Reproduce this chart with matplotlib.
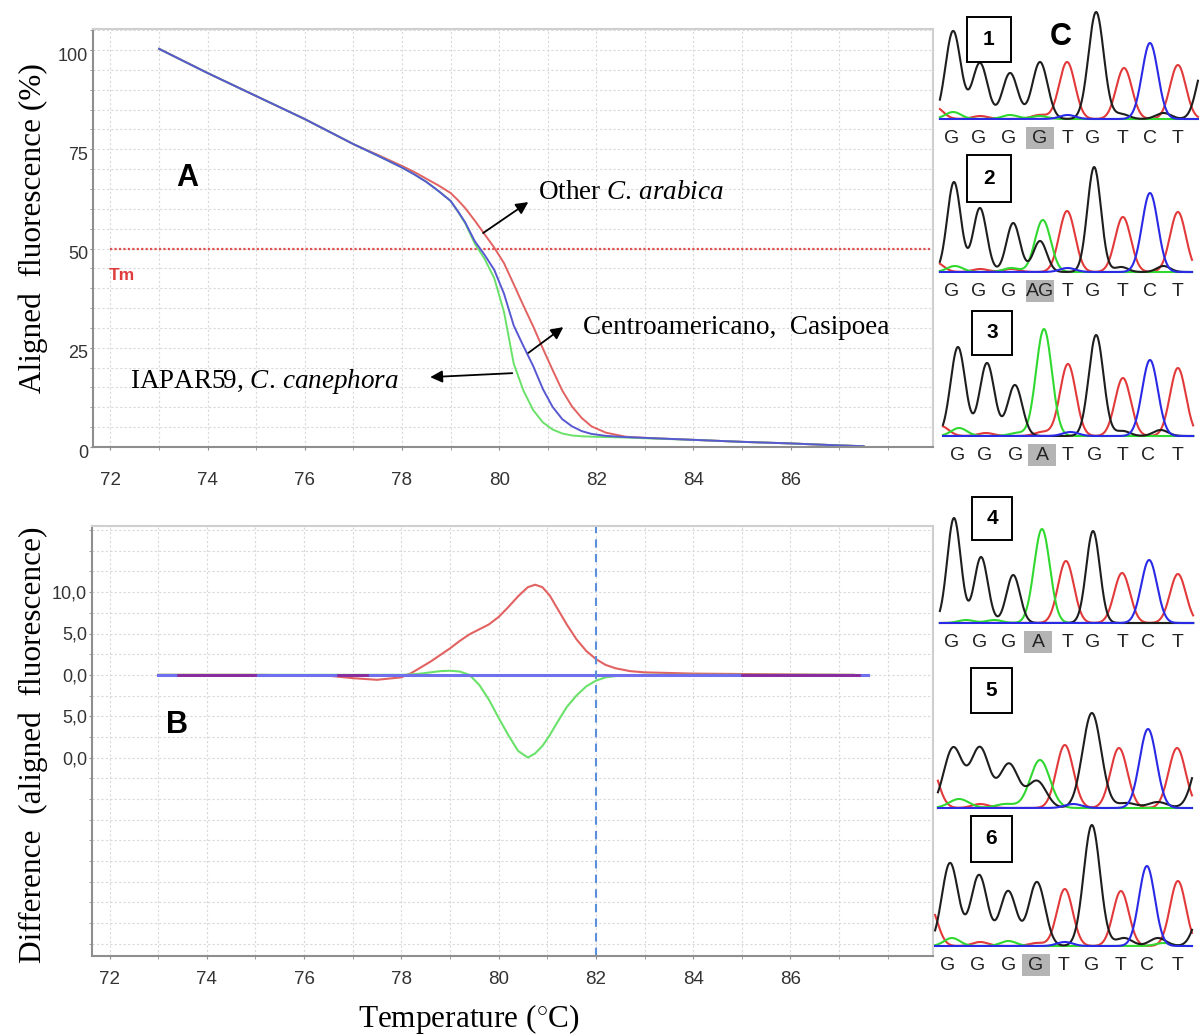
import numpy as np
import matplotlib
matplotlib.use("Agg")
import matplotlib.pyplot as plt
import matplotlib.transforms as mtransforms
from matplotlib.patches import Rectangle
from matplotlib.ticker import MultipleLocator, FixedLocator

# ---------------- Panel A : aligned melt curves ----------------
temp_a = [73, 74, 75, 76, 77, 77.5, 78, 78.25, 78.5, 78.75, 79, 79.15, 79.3, 79.5, 79.7, 79.9,
          80.1, 80.3, 80.5, 80.7, 80.9, 81.1, 81.3, 81.5, 81.7, 81.9, 82.2, 82.6, 83, 84, 85,
          86, 87, 87.5]
fluor_other_arabica = [100.3, 94.2, 88.4, 82.6, 76.3, 73.6, 70.8, 69.3, 67.6, 65.9, 64.0, 62.2,
                       60.2, 57.0, 53.6, 50.2, 46.3, 41.0, 35.6, 30.4, 24.8, 19.4, 14.2, 10.2,
                       7.3, 5.2, 3.6, 2.6, 2.3, 1.8, 1.3, 0.9, 0.4, 0.2]
fluor_centro_casipoea = [100.3, 94.2, 88.4, 82.6, 76.3, 73.4, 70.4, 68.7, 66.8, 64.5, 62.0, 59.4,
                         56.6, 51.8, 48.4, 44.6, 38.6, 30.6, 25.4, 20.4, 14.6, 10.1, 7.0, 5.2,
                         4.0, 3.3, 2.8, 2.5, 2.3, 1.8, 1.3, 0.9, 0.4, 0.2]
fluor_iapar_canephora = [100.3, 94.2, 88.4, 82.6, 76.3, 73.4, 70.4, 68.7, 66.8, 64.5, 62.0, 59.3,
                         56.4, 51.2, 47.4, 42.5, 34.0, 21.0, 14.2, 9.3, 6.2, 4.4, 3.4, 2.9,
                         2.7, 2.6, 2.5, 2.4, 2.2, 1.8, 1.3, 0.9, 0.4, 0.2]
tm_level = 50
a_xticks = [72, 74, 76, 78, 80, 82, 84, 86]
a_yticks = [0, 25, 50, 75, 100]

# ---------------- Panel B : difference plot ----------------
temp_b = [73, 75, 76.5, 77.0, 77.5, 78.0, 78.2, 78.4, 78.6, 78.8, 79.0, 79.2, 79.4, 79.6, 79.8,
          80.0, 80.2, 80.4, 80.6, 80.75, 80.9, 81.05, 81.2, 81.4, 81.6, 81.8, 82.0, 82.2, 82.4,
          82.7, 83.0, 84.0, 85.0, 86.0, 87.3]
diff_other_arabica = [0, 0, -0.1, -0.4, -0.6, -0.3, 0.2, 0.9, 1.6, 2.4, 3.2, 4.1, 4.9, 5.5, 6.1,
                      7.0, 8.2, 9.5, 10.6, 10.9, 10.6, 9.6, 8.1, 6.1, 4.3, 2.9, 1.9, 1.2, 0.8,
                      0.45, 0.3, 0.15, 0.1, 0.05, 0]
diff_iapar = [0, 0, 0, 0, 0, 0, 0.05, 0.15, 0.3, 0.45, 0.5, 0.4, 0.0, -1.2, -3.0,
              -5.2, -7.3, -9.2, -10.0, -9.5, -8.6, -7.3, -5.8, -3.9, -2.5, -1.4, -0.7, -0.3, -0.15,
              -0.05, 0, 0, 0, 0, 0]
temp_b_ref = [73, 87.6]
diff_ref = [0, 0]
purple_segments = [(73.4, 75.0), (76.7, 77.3), (85.0, 87.4)]
b_vline = 82
b_ytick_vals = [10, 5, 0, -5, -10]
b_ytick_text = ["10,0", "5,0", "0,0", "5,0", "0,0"]

# ---------------- Panel C : chromatograms (peak centre in base units, height) -------------
chrom_letters = [
    ["G", "G", "G", "G", "T", "G", "T", "C", "T"],
    ["G", "G", "G", "AG", "T", "G", "T", "C", "T"],
    ["G", "G", "G", "A", "T", "G", "T", "C", "T"],
    ["G", "G", "G", "A", "T", "G", "T", "C", "T"],
    [],
    ["G", "G", "G", "G", "T", "G", "T", "C", "T"],
]
chrom_letter_pos = [
    [0, 0.96, 1.99, 3.12, 4.08, 5.0, 6.03, 7.02, 8.01],
    [0, 0.96, 2.0, 3.12, 4.08, 5.0, 6.03, 7.02, 8.01],
    [0.21, 1.17, 2.27, 3.19, 4.11, 5.04, 6.03, 6.95, 7.98],
    [0, 0.99, 1.99, 3.05, 4.08, 5.0, 6.03, 6.95, 7.98],
    [],
    [-0.14, 0.92, 1.99, 2.98, 3.94, 4.96, 5.96, 6.91, 7.98],
]
chrom_highlight = [3, 3, 3, 3, None, 3]

p1_black = [(0.04, 88), (0.99, 56), (2.06, 46), (3.12, 57), (5.11, 107), (8.95, 55), (6.0, 5), (7.5, 6)]
p1_red = [(-0.6, 12), (1.0, 3), (3.1, 4), (4.08, 57), (6.1, 51), (8.01, 54)]
p1_green = [(0.04, 7), (2.06, 4), (3.1, 3)]
p1_blue = [(4.1, 4), (7.02, 76)]

p2_black = [(0.07, 90), (0.99, 64), (2.17, 49), (3.12, 31), (5.04, 105), (6.0, 5), (7.5, 6)]
p2_red = [(-0.6, 10), (1.0, 3), (2.1, 3), (4.08, 61), (6.06, 55), (8.01, 60)]
p2_green = [(0.1, 6), (2.1, 4), (3.22, 52)]
p2_blue = [(4.1, 4), (7.02, 79)]

p3_black = [(0.21, 89), (1.24, 73), (2.23, 51), (5.11, 101), (6.05, 5), (7.4, 6)]
p3_red = [(-0.4, 10), (1.2, 3), (3.2, 4), (4.11, 72), (6.06, 58), (8.01, 68)]
p3_green = [(0.25, 8), (2.3, 3), (3.26, 107)]
p3_blue = [(4.2, 4), (7.02, 76)]

p4_black = [(0.07, 105), (1.03, 66), (2.17, 48), (5.0, 92)]
p4_red = [(4.04, 62), (6.03, 50), (8.01, 49)]
p4_green = [(0.5, 3), (1.5, 3), (3.19, 94)]
p4_blue = [(6.99, 63)]

p5_black = [(0.04, 60), (0.99, 60), (2.02, 44), (3.01, 27), (4.96, 95), (6.2, 5), (7.3, 6), (8.9, 60)]
p5_red = [(-0.8, 45), (1.0, 4), (4.0, 63), (5.92, 60), (7.98, 60)]
p5_green = [(0.25, 9), (1.9, 4), (3.12, 48)]
p5_blue = [(4.3, 4), (6.95, 79)]

p6_black = [(-0.07, 83), (0.96, 71), (1.99, 55), (3.01, 64), (4.96, 121), (6.1, 8), (7.3, 8), (8.9, 40)]
p6_red = [(-0.8, 40), (1.0, 4), (3.0, 3), (4.0, 57), (5.99, 55), (8.01, 65)]
p6_green = [(0.0, 8), (2.0, 5), (7.5, 3)]
p6_blue = [(4.0, 4), (6.91, 80)]

chrom_peaks = [
    (p1_black, p1_red, p1_green, p1_blue),
    (p2_black, p2_red, p2_green, p2_blue),
    (p3_black, p3_red, p3_green, p3_blue),
    (p4_black, p4_red, p4_green, p4_blue),
    (p5_black, p5_red, p5_green, p5_blue),
    (p6_black, p6_red, p6_green, p6_blue),
]
chrom_numbers = ["1", "2", "3", "4", "5", "6"]

# ---------------- layout / style ----------------
W, H = 1202, 1035
plt.rcParams["mathtext.fontset"] = "custom"
plt.rcParams["mathtext.rm"] = "Liberation Serif"
plt.rcParams["mathtext.it"] = "Liberation Serif:italic"

fig = plt.figure(figsize=(W / 100, H / 100), dpi=100)
fig.patch.set_facecolor("white")


def fx(x):
    return x / W


def fy(y):
    return 1 - y / H


SANS = "Liberation Sans"
SERIF = "Liberation Serif"
RED = "#e26262"
BLUE = "#5858d2"
GREEN = "#6ae26a"
GRID = dict(color="#d9d9d9", linestyle=(0, (2, 2)), linewidth=0.8)


def style_axes(ax, xpad):
    for s in ["left", "bottom"]:
        ax.spines[s].set_color("#8e8e8e")
        ax.spines[s].set_linewidth(1.5)
    for s in ["top", "right"]:
        ax.spines[s].set_color("#cfcfcf")
        ax.spines[s].set_linewidth(1.5)
    ax.xaxis.set_major_locator(FixedLocator(a_xticks))
    ax.xaxis.set_minor_locator(MultipleLocator(1))
    ax.grid(True, which="both", **GRID)
    ax.set_axisbelow(True)
    ax.tick_params(axis="x", which="both", length=2, color="#8e8e8e", pad=xpad,
                   labelsize=13.5, labelcolor="#333333")
    ax.tick_params(axis="y", which="both", length=2, color="#8e8e8e", pad=1.5,
                   labelsize=13, labelcolor="#333333")
    for lab in ax.get_xticklabels() + ax.get_yticklabels():
        lab.set_fontfamily(SANS)


# ---- Panel A ----
axA = fig.add_axes([fx(93), fy(447), 840 / W, 418 / H])
axA.set_xlim(71.64, 88.93)
axA.set_ylim(0, 105.3)
axA.yaxis.set_major_locator(FixedLocator(a_yticks))
axA.yaxis.set_minor_locator(MultipleLocator(5))
axA.set_xticklabels([str(t) for t in a_xticks])
axA.set_yticklabels([str(t) for t in a_yticks])
style_axes(axA, 16)
shift = mtransforms.ScaledTranslation(0, -4 / 100, fig.dpi_scale_trans)
for lab in axA.get_yticklabels():
    lab.set_transform(lab.get_transform() + shift)

axA.plot([72, 88.93], [tm_level, tm_level], color="#e05050", lw=1.6, linestyle=(0, (1, 1)))
axA.plot(temp_a, fluor_other_arabica, color=RED, lw=1.4)
axA.plot(temp_a, fluor_iapar_canephora, color=GREEN, lw=1.4)
axA.plot(temp_a, fluor_centro_casipoea, color=BLUE, lw=1.4)

axA.text(71.96, 43.3, "Tm", color="#e03c3c", fontsize=12.5, fontweight="bold",
         family=SANS, va="center", ha="left")
axA.text(73.58, 67.8, "A", fontsize=22, fontweight="bold", family=SANS, va="center", ha="center")
axA.text(80.79, 64.2, r"Other $\mathit{C.\,arabica}$", fontsize=19.5, family=SERIF,
         va="center", ha="left")
axA.text(81.73, 30.2, "Centroamericano,  Casipoea", fontsize=19.5, family=SERIF,
         va="center", ha="left")
axA.text(72.41, 16.4, r"IAPAR59, $\mathit{C.\,canephora}$", fontsize=19.5, family=SERIF,
         va="center", ha="left")
arrow = dict(arrowstyle="-|>", color="black", lw=1.3, mutation_scale=18, shrinkA=0, shrinkB=0)
axA.annotate("", xy=(80.6, 61.7), xytext=(79.67, 53.9), arrowprops=arrow)
axA.annotate("", xy=(81.32, 30.2), xytext=(80.6, 23.7), arrowprops=arrow)
axA.annotate("", xy=(78.58, 17.6), xytext=(80.27, 18.6), arrowprops=arrow)

# ---- Panel B ----
axB = fig.add_axes([fx(92), fy(956), 841 / W, 430 / H])
axB.set_xlim(71.64, 88.93)
axB.set_ylim(-34, 18)
axB.yaxis.set_major_locator(FixedLocator(b_ytick_vals))
axB.yaxis.set_minor_locator(MultipleLocator(2.5))
axB.set_xticklabels([str(t) for t in a_xticks])
axB.set_yticklabels(b_ytick_text)
style_axes(axB, 9)

axB.plot(temp_b, diff_other_arabica, color=RED, lw=1.5)
axB.plot(temp_b, diff_iapar, color=GREEN, lw=1.5)
axB.plot(temp_b_ref, diff_ref, color="#7070ee", lw=2.2)
for s0, s1 in purple_segments:
    axB.plot([s0, s1], [0, 0], color="#8a2a9a", lw=2.0)
axB.axvline(b_vline, color="#5b8fdc", lw=1.5, linestyle=(0, (4, 3)))
axB.text(73.38, -6.05, "B", fontsize=22, fontweight="bold", family=SANS, va="center", ha="center")

# axis titles
fig.text(fx(33), fy(228), "Aligned  fluorescence (%)", rotation=90, fontsize=22.5,
         family=SERIF, va="center", ha="center")
fig.text(fx(33), fy(745), "Difference  (aligned  fluorescence)", rotation=90, fontsize=22.5,
         family=SERIF, va="center", ha="center")
fig.text(fx(469), fy(1019), r"Temperature ($^{\circ}$C)", fontsize=22.5, family=SERIF,
         va="center", ha="center")

# ---- Panel C ----
baselines = [119, 272, 436, 623, 808, 946]
trace_ranges = [(-0.43, 8.72), (-0.43, 8.51), (-0.32, 8.55), (-0.43, 8.55), (-0.5, 8.51), (-0.6, 8.51)]
black_sigma = [0.27, 0.24, 0.26, 0.24, 0.33, 0.29]
color_sigma = [0.28, 0.28, 0.28, 0.28, 0.30, 0.28]
number_boxes = [(967, 17, 1011, 62), (967, 155, 1011, 202), (972, 311, 1012, 355),
                (972, 497, 1012, 540), (971, 668, 1012, 713), (971, 816, 1012, 862)]
trace_cols = {"black": "#1e1e1e", "red": "#e23a3a", "green": "#30d830", "blue": "#2a2ae6"}


def peak_sum(u, peaks, sigma):
    y = np.zeros_like(u)
    for c, h in peaks:
        y += h * np.exp(-0.5 * ((u - c) / sigma) ** 2)
    return y


for i in range(6):
    b = baselines[i]
    ax = fig.add_axes([fx(936.5), fy(b + 4), 262 / W, 130 / H])
    ax.set_xlim(-0.55, 8.74)
    ax.set_ylim(-4, 126)
    ax.axis("off")
    ax.patch.set_alpha(0)
    u = np.linspace(trace_ranges[i][0], trace_ranges[i][1], 500)
    blk, red, grn, blu = chrom_peaks[i]
    ax.plot(u, peak_sum(u, red, color_sigma[i]), color=trace_cols["red"], lw=1.5, clip_on=False)
    ax.plot(u, peak_sum(u, grn, color_sigma[i] + (0.05 if i == 4 else 0)),
            color=trace_cols["green"], lw=1.5, clip_on=False)
    ax.plot(u, peak_sum(u, blk, black_sigma[i]), color=trace_cols["black"], lw=1.5, clip_on=False)
    ax.plot(u, peak_sum(u, blu, color_sigma[i]), color=trace_cols["blue"], lw=1.5, clip_on=False)
    hl = chrom_highlight[i]
    for j, (lt, pos) in enumerate(zip(chrom_letters[i], chrom_letter_pos[i])):
        if j == hl:
            ax.add_patch(Rectangle((pos - 0.5, -30), 1.0, 22, facecolor="#b4b4b4",
                                   edgecolor="none", clip_on=False, zorder=1))
        ax.text(pos, -19.5, lt, fontsize=14, family=SANS, color="#222222",
                ha="center", va="center", clip_on=False, zorder=2)
    x0, y0, x1, y1 = number_boxes[i]
    fig.patches.append(Rectangle((fx(x0), fy(y1)), (x1 - x0) / W, (y1 - y0) / H,
                                 transform=fig.transFigure, facecolor="white",
                                 edgecolor="black", lw=1.4, zorder=5))
    fig.text(fx((x0 + x1) / 2), fy((y0 + y1) / 2), chrom_numbers[i], fontsize=15,
             fontweight="bold", family=SANS, ha="center", va="center", zorder=6)

fig.text(fx(1061), fy(37), "C", fontsize=22, fontweight="bold", family=SANS,
         ha="center", va="center")

fig.savefig("out.png", dpi=100, facecolor="white")
